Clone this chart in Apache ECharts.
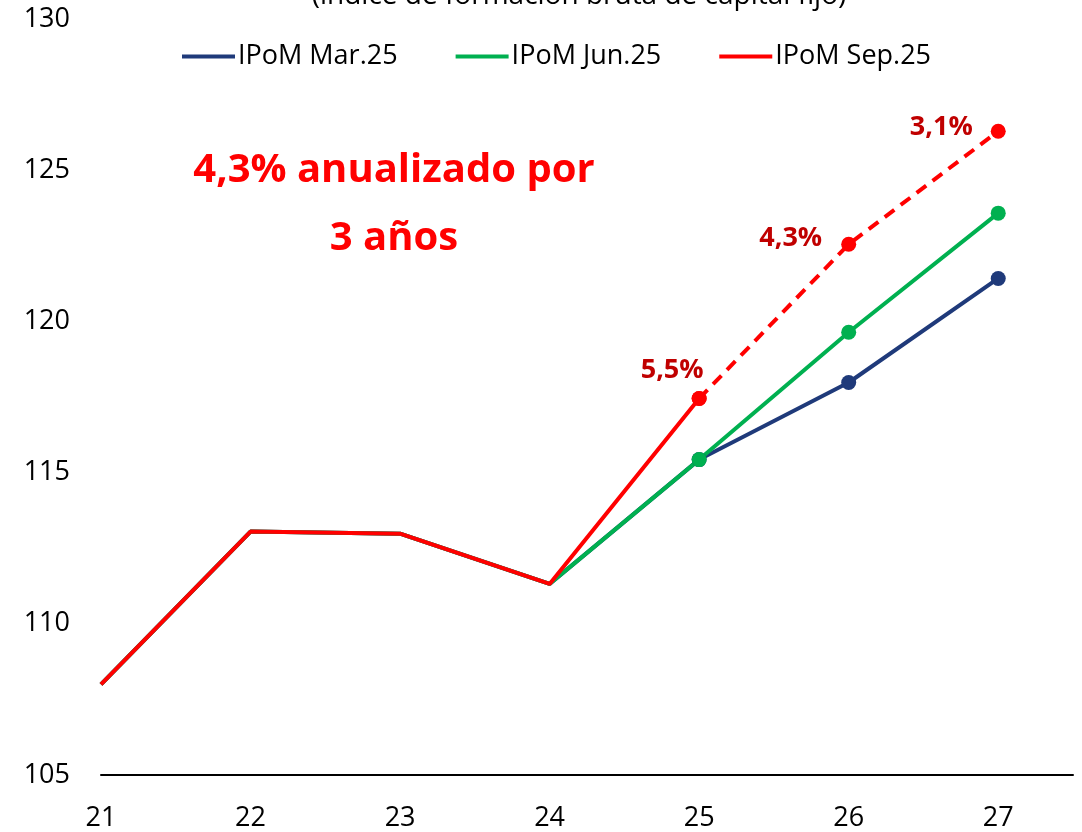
<!DOCTYPE html>
<html>
<head>
<meta charset="utf-8">
<script src="https://cdn.jsdelivr.net/npm/echarts@6/dist/echarts.min.js"></script>
<style>
  html, body { margin: 0; padding: 0; background: #fff; }
  #chart { width: 1082px; height: 832px; }
</style>
</head>
<body>
<div id="chart"></div>
<script>
const years = [21, 22, 23, 24, 25, 26, 27]
const ipomMar = [108.0, 113.05, 112.98, 111.32, 115.43, 117.98, 121.42]
const ipomJun = [108.0, 113.05, 112.98, 111.32, 115.43, 119.64, 123.58]
const ipomSep = [108.0, 113.05, 112.98, 111.32, 117.45, 122.55, 126.29]
const sepGrowth = ['5,5%', '4,3%', '3,1%']
const firstForecast = 4

const font = '"Open Sans", "Noto Sans", sans-serif'
const colors = { mar: '#1F3A7A', jun: '#00B050', sep: '#FF0000', lbl: '#C00000' }

const toPoints = (arr, from = 0, to = arr.length - 1) =>
  years.map((x, i) => {
    if (i < from || i > to) return { value: [x, null] }
    return { value: [x, arr[i]], symbol: i >= firstForecast ? 'circle' : 'none' }
  })

// label placement for the growth rates on the dashed Sep projection
const labelOffsets = [[-27, -2], [-14, -6], [-13, -4]]
const sepDashed = toPoints(ipomSep, firstForecast).map((d, i) => {
  const k = i - firstForecast
  if (k < 0) return d
  return {
    ...d,
    label: {
      show: true,
      formatter: sepGrowth[k],
      position: k === 0 ? 'top' : 'left',
      offset: labelOffsets[k],
    },
  }
})

const chart = echarts.init(document.getElementById('chart'))

const lineBase = (name, color) => ({
  name,
  type: 'line',
  symbolSize: 15,
  lineStyle: { color, width: 4 },
  itemStyle: { color },
  connectNulls: false,
  animation: false,
  z: 2,
})

chart.setOption({
  backgroundColor: '#fff',
  legend: {
    top: 38,
    left: 177,
    itemGap: 58,
    itemWidth: 53,
    itemHeight: 4,
    icon: 'rect',
    data: ['IPoM Mar.25', 'IPoM Jun.25', 'IPoM Sep.25'],
    textStyle: { fontFamily: font, fontSize: 27, color: '#000', padding: [0, 0, 0, -2] },
  },
  graphic: [
    {
      type: 'text',
      x: 579,
      y: 10,
      style: {
        text: '(índice de formación bruta de capital fijo)',
        fill: '#000',
        font: '28px ' + font,
        textAlign: 'center',
        textVerticalAlign: 'bottom',
      },
    },
    {
      type: 'text',
      x: 394,
      y: 205,
      style: {
        text: '4,3% anualizado por\n3 años',
        fill: colors.sep,
        font: 'bold 40px ' + font,
        textAlign: 'center',
        textVerticalAlign: 'middle',
        lineHeight: 68,
      },
    },
  ],
  grid: { left: 101, right: 9, top: 19, bottom: 57 },
  xAxis: {
    type: 'value',
    min: 21,
    max: 27.5,
    interval: 1,
    axisLine: { show: true, lineStyle: { color: '#000', width: 2 } },
    axisTick: { show: false },
    splitLine: { show: false },
    axisLabel: {
      margin: 30,
      color: '#000',
      fontFamily: font,
      fontSize: 27,
      showMaxLabel: false,
      formatter: (v) => (Number.isInteger(v) ? String(v) : ''),
    },
  },
  yAxis: {
    type: 'value',
    min: 105,
    max: 130,
    interval: 5,
    axisLine: { show: false },
    axisTick: { show: false },
    splitLine: { show: false },
    axisLabel: { margin: 31, color: '#000', fontFamily: font, fontSize: 27 },
  },
  series: [
    { ...lineBase('IPoM Mar.25', colors.mar), data: toPoints(ipomMar) },
    { ...lineBase('IPoM Jun.25', colors.jun), data: toPoints(ipomJun) },
    { ...lineBase('IPoM Sep.25', colors.sep), data: toPoints(ipomSep, 0, firstForecast), z: 3 },
    {
      ...lineBase('Sep dashed', colors.sep),
      data: sepDashed,
      lineStyle: { color: colors.sep, width: 4, type: [12, 8] },
      label: { color: colors.lbl, fontFamily: font, fontSize: 27, fontWeight: 'bold' },
      z: 3,
    },
  ],
})
</script>
</body>
</html>
